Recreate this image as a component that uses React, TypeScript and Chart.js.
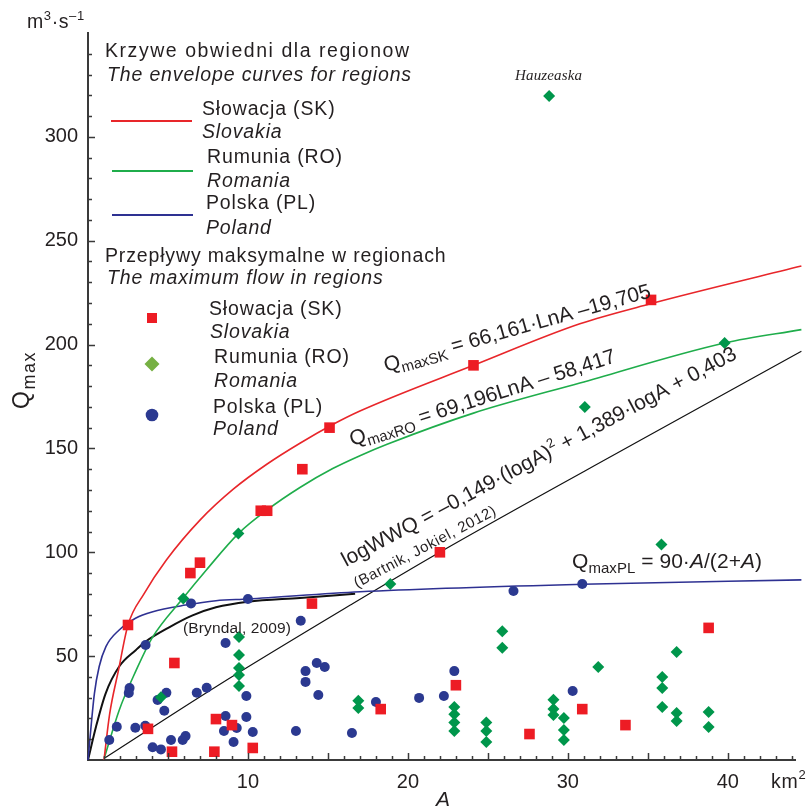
import React, { useEffect, useRef } from "react";
import { Chart, registerables } from "chart.js";

Chart.register(...registerables);

// ---------- axes ----------
const X_TICKS = [10, 20, 30, 40];
const Y_TICKS = [50, 100, 150, 200, 250, 300];
const X_MIN = 0;
const X_MAX = 44.2;
const Y_MIN = 0;
const Y_MAX = 350;

// ---------- observed maximum flows ----------
// Słowacja (SK)
const skA = [2.5, 6.4, 7.0, 13.4, 10.8, 11.2, 15.1, 24.1, 35.2, 22.0, 14.0, 5.4, 3.75, 5.25, 7.9, 10.3, 8.0, 9.0, 23.0, 18.3, 27.6, 30.9, 33.6, 38.8];
const skQ = [65, 90, 95, 140, 120, 120, 160, 190, 221.5, 100, 75.3, 46.7, 15, 4, 4, 5.8, 19.7, 16.8, 36, 24.5, 12.5, 24.5, 16.8, 63.6];

// Rumunia (RO)
const roA = [28.83, 39.8, 31.06, 35.85, 18.9, 9.4, 5.96, 9.44, 9.44, 9.44, 9.44, 9.44, 4.56, 16.9, 16.9, 22.9, 22.9, 22.9, 22.9, 24.9, 24.9, 24.9, 25.9, 25.9, 29.1, 29.1, 29.1, 29.75, 29.75, 29.75, 31.9, 35.9, 35.9, 35.9, 36.8, 36.8, 36.8, 38.8, 38.8];
const roQ = [319.7, 200.8, 170, 103.7, 84.7, 109, 77.8, 59.2, 50.6, 44.3, 40.9, 35.6, 30.2, 28.5, 25, 25.5, 22, 18, 14, 18, 14, 8.7, 62, 54, 29, 24.5, 21.7, 20.2, 14.4, 9.6, 44.8, 40, 34.7, 25.5, 52, 22.6, 18.8, 23.1, 15.9];

// Polska (PL)
const plA = [6.44, 10.0, 13.3, 3.6, 8.6, 2.6, 2.55, 4.9, 4.35, 6.8, 7.42, 9.9, 4.77, 13.6, 13.6, 8.6, 9.9, 1.8, 2.96, 3.58, 8.5, 9.3, 10.3, 13.0, 1.33, 5.19, 5.92, 6.1, 9.1, 4.04, 4.56, 14.3, 14.8, 14.4, 16.5, 18.0, 20.7, 22.25, 22.9, 26.6, 30.3, 30.9];
const plQ = [75.4, 77.5, 67, 55.4, 56.3, 34.7, 32.3, 32.4, 28.9, 32.4, 34.8, 30.8, 23.7, 42.8, 37.6, 21.2, 20.7, 16, 15.5, 16.5, 14, 15.4, 13.5, 14, 9.6, 9.6, 9.6, 11.5, 8.7, 6.1, 5.1, 46.7, 44.8, 31.3, 13, 27.9, 29.9, 30.8, 42.8, 81.4, 33.2, 84.7];

// ---------- envelope curves ----------
const skCurveA = [1.0, 1.35, 1.9, 2.5, 3.5, 4.9, 7.0, 9.1, 11.2, 13.25, 15.3, 17.0, 24.1, 30.75, 35.1, 44.6];
const skCurveQ = [0, 22, 43, 65, 80, 96.3, 115.5, 130.5, 142.5, 152.5, 161.5, 168, 190, 210, 219.5, 237.8];

const roCurveA = [1.02, 1.95, 3.0, 4.0, 5.95, 7.4, 9.4, 11.2, 13.25, 15.3, 17.0, 18.7, 24.1, 30.75, 39.8, 44.6];
const roCurveQ = [1, 24, 43, 58.7, 78, 91.5, 109, 120.4, 131.2, 140.3, 146.5, 152, 167, 181.5, 200.8, 207.2];

const plCurveA = [0, 0.4, 0.7, 1.12, 1.95, 3.0, 4.0, 6.1, 8.0, 10.0, 17.0, 30.9, 44.6];
const plCurveQ = [0, 32, 45, 54.6, 62.6, 68.4, 71.3, 74.6, 76.7, 77.5, 81, 84.6, 86.7];

// Bryndal (2009)
const bryndalA = [0, 0.5, 1.1, 1.95, 3.0, 3.6, 5.1, 6.5, 8.0, 10.0, 13.25, 16.7];
const bryndalQ = [0, 16, 32, 45, 53, 57, 64, 69.5, 73.5, 76.2, 78, 80];

// Bartnik, Jokiel (2012)
const bartnikA = [1.02, 8.0, 16.4, 21.8, 34.5, 44.6];
const bartnikQ = [0.8, 35.3, 74.6, 99.2, 153.8, 196.8];

// ---------- styling ----------
const FONT = '"Liberation Sans", Arial, Helvetica, sans-serif';
const SERIF = '"Liberation Serif", "Times New Roman", serif';
const TEXT = "#231f20";
const AXIS = "#3a3a3a";
const RED_M = "#ed1c24";
const GREEN_M = "#00964b";
const BLUE_M = "#2b3990";
const RED_L = "#e8262a";
const GREEN_L = "#1fad4b";
const BLUE_L = "#2e3192";
const LEG_DIAMOND = "#76b043";

const zip = (a: number[], b: number[]) => a.map((x, i) => ({ x, y: b[i] }));

type Run = { t: string; size: number; dy?: number; italic?: boolean; family?: string };

function setFont(ctx: CanvasRenderingContext2D, r: Run) {
  ctx.font = `${r.italic ? "italic " : ""}${r.size}px ${r.family || FONT}`;
}

function measureRuns(ctx: CanvasRenderingContext2D, runs: Run[]) {
  let w = 0;
  let n = 0;
  for (const r of runs) {
    setFont(ctx, r);
    for (const ch of Array.from(r.t)) {
      w += ctx.measureText(ch).width;
      n++;
    }
  }
  return { w, n };
}

function drawRuns(
  ctx: CanvasRenderingContext2D,
  runs: Run[],
  x: number,
  y: number,
  opt: { angle?: number; spacing?: number; fit?: number; color?: string; align?: "left" | "center" } = {}
) {
  ctx.save();
  ctx.translate(x, y);
  ctx.rotate(opt.angle || 0);
  ctx.fillStyle = opt.color || TEXT;
  ctx.textAlign = "left";
  ctx.textBaseline = "alphabetic";
  const m = measureRuns(ctx, runs);
  let sp = opt.spacing || 0;
  if (opt.fit) sp = (opt.fit - m.w) / Math.max(1, m.n - 1);
  let cx = 0;
  if (opt.align === "center") cx = -(m.w + sp * (m.n - 1)) / 2;
  for (const r of runs) {
    setFont(ctx, r);
    for (const ch of Array.from(r.t)) {
      ctx.fillText(ch, cx, r.dy || 0);
      cx += ctx.measureText(ch).width + sp;
    }
  }
  ctx.restore();
}

function drawAlong(ctx: CanvasRenderingContext2D, runs: Run[], x1: number, y1: number, x2: number, y2: number) {
  const angle = Math.atan2(y2 - y1, x2 - x1);
  const len = Math.hypot(x2 - x1, y2 - y1);
  drawRuns(ctx, runs, x1, y1, { angle, fit: len });
}

// [x, baseline, text, italic, fitted width (0 = natural)]
const LEGEND_TEXT: [number, number, string, boolean, number][] = [
  [105, 57, "Krzywe obwiedni dla regionow", false, 304],
  [107, 81, "The envelope curves for regions", true, 0],
  [202, 115, "Słowacja (SK)", false, 0],
  [202, 138, "Slovakia", true, 0],
  [207, 163, "Rumunia (RO)", false, 0],
  [207, 187, "Romania", true, 0],
  [206, 209, "Polska (PL)", false, 0],
  [206, 234, "Poland", true, 0],
  [105, 262, "Przepływy maksymalne w regionach", false, 0],
  [107, 284, "The maximum flow in regions", true, 0],
  [209, 315, "Słowacja (SK)", false, 0],
  [210, 338, "Slovakia", true, 0],
  [214, 363, "Rumunia (RO)", false, 0],
  [214, 387, "Romania", true, 0],
  [213, 413, "Polska (PL)", false, 0],
  [213, 435, "Poland", true, 0],
];

const overlayPlugin = {
  id: "overlay",
  afterDraw(chart: any) {
    const ctx: CanvasRenderingContext2D = chart.ctx;
    const xs = chart.scales.x;
    const ys = chart.scales.y;
    const x0 = xs.getPixelForValue(X_MIN);
    const y0 = ys.getPixelForValue(Y_MIN);

    // inside tick marks
    ctx.save();
    ctx.strokeStyle = AXIS;
    ctx.lineWidth = 1.5;
    ctx.beginPath();
    for (let v = 1; v <= Math.floor(X_MAX); v++) {
      const px = Math.round(xs.getPixelForValue(v)) + 0.5;
      const len = v % 5 === 0 ? 7 : 4;
      ctx.moveTo(px, y0);
      ctx.lineTo(px, y0 - len);
    }
    for (let v = 10; v < Y_MAX; v += 10) {
      const py = Math.round(ys.getPixelForValue(v)) + 0.5;
      const len = v % 50 === 0 ? 7 : 4;
      ctx.moveTo(x0, py);
      ctx.lineTo(x0 + len, py);
    }
    ctx.stroke();
    ctx.restore();

    // legend block
    const lineY = [
      [RED_L, 111, 192, 121],
      [GREEN_L, 112, 193, 171],
      [BLUE_L, 112, 193, 215],
    ] as [string, number, number, number][];
    ctx.save();
    ctx.lineWidth = 2;
    for (const [c, a, b, y] of lineY) {
      ctx.strokeStyle = c;
      ctx.beginPath();
      ctx.moveTo(a, y);
      ctx.lineTo(b, y);
      ctx.stroke();
    }
    ctx.fillStyle = RED_M;
    ctx.fillRect(152 - 5, 318 - 5, 10, 10);
    ctx.fillStyle = LEG_DIAMOND;
    ctx.beginPath();
    ctx.moveTo(152, 364 - 7.5);
    ctx.lineTo(152 + 7.5, 364);
    ctx.lineTo(152, 364 + 7.5);
    ctx.lineTo(152 - 7.5, 364);
    ctx.closePath();
    ctx.fill();
    ctx.fillStyle = BLUE_M;
    ctx.beginPath();
    ctx.arc(152, 415, 6.3, 0, Math.PI * 2);
    ctx.fill();
    ctx.restore();

    for (const [x, y, t, it, fit] of LEGEND_TEXT) {
      if (fit) drawRuns(ctx, [{ t, size: 19.5, italic: it }], x, y, { fit });
      else drawRuns(ctx, [{ t, size: 19.5, italic: it }], x, y, { spacing: 0.85 });
    }

    // axis titles
    drawRuns(
      ctx,
      [
        { t: "m", size: 19.5 },
        { t: "3", size: 13, dy: -8 },
        { t: "·s", size: 19.5 },
        { t: "–1", size: 13, dy: -8 },
      ],
      27,
      28,
      { spacing: 0.6 }
    );
    drawRuns(
      ctx,
      [
        { t: "Q", size: 23 },
        { t: "max", size: 18, dy: 6 },
      ],
      29,
      409,
      { angle: -Math.PI / 2, spacing: 1.5 }
    );
    drawRuns(ctx, [{ t: "A", size: 21, italic: true }], 443, 806, { align: "center" });
    drawRuns(
      ctx,
      [
        { t: "km", size: 19.5 },
        { t: "2", size: 13, dy: -9 },
      ],
      771,
      788,
      { spacing: 0.8 }
    );

    // curve equations
    drawAlong(
      ctx,
      [
        { t: "Q", size: 21 },
        { t: "maxSK", size: 15, dy: 5 },
        { t: " = 66,161·LnA –19,705", size: 21 },
      ],
      386, 372, 652, 297
    );
    drawAlong(
      ctx,
      [
        { t: "Q", size: 21 },
        { t: "maxRO", size: 15, dy: 5 },
        { t: " = 69,196LnA – 58,417", size: 21 },
      ],
      352, 446, 617, 362
    );
    drawAlong(
      ctx,
      [
        { t: "logWWQ = –0,149·(logA)", size: 21 },
        { t: "2", size: 13, dy: -9 },
        { t: " + 1,389·logA + 0,403", size: 21 },
      ],
      346, 567, 738, 358
    );
    drawAlong(ctx, [{ t: "(Bartnik, Jokiel, 2012)", size: 15 }], 357, 588, 497, 514);
    drawRuns(
      ctx,
      [
        { t: "Q", size: 21 },
        { t: "maxPL", size: 15, dy: 5 },
        { t: " = 90·", size: 21 },
        { t: "A", size: 21, italic: true },
        { t: "/(2+", size: 21 },
        { t: "A", size: 21, italic: true },
        { t: ")", size: 21 },
      ],
      572,
      568,
      { fit: 190 }
    );
    drawRuns(ctx, [{ t: "(Bryndal, 2009)", size: 15.5 }], 183, 633, { fit: 108 });
    drawRuns(ctx, [{ t: "Hauzeaska", size: 15, italic: true, family: SERIF }], 515, 80, { fit: 67 });
  },
};

export default function App() {
  const ref = useRef<HTMLCanvasElement | null>(null);

  useEffect(() => {
    if (!ref.current) return;
    const curve = (label: string, a: number[], q: number[], color: string, width: number, order: number) => ({
      type: "line" as const,
      label,
      data: zip(a, q),
      borderColor: color,
      borderWidth: width,
      pointRadius: 0,
      fill: false,
      cubicInterpolationMode: "monotone" as const,
      clip: false as any,
      order,
    });

    const chart = new Chart(ref.current, {
      type: "scatter",
      data: {
        datasets: [
          {
            type: "scatter",
            label: "Słowacja (SK)",
            data: zip(skA, skQ),
            pointStyle: "rect",
            pointRadius: 7.5,
            backgroundColor: RED_M,
            borderWidth: 0,
            order: 1,
          },
          {
            type: "scatter",
            label: "Rumunia (RO)",
            data: zip(roA, roQ),
            pointStyle: "rectRot",
            pointRadius: 6,
            backgroundColor: GREEN_M,
            borderWidth: 0,
            order: 2,
          },
          {
            type: "scatter",
            label: "Polska (PL)",
            data: zip(plA, plQ),
            pointStyle: "circle",
            pointRadius: 5,
            backgroundColor: BLUE_M,
            borderWidth: 0,
            order: 3,
          },
          curve("SK envelope", skCurveA, skCurveQ, RED_L, 1.6, 10),
          curve("RO envelope", roCurveA, roCurveQ, GREEN_L, 1.6, 11),
          curve("PL envelope", plCurveA, plCurveQ, BLUE_L, 1.6, 12),
          curve("Bryndal 2009", bryndalA, bryndalQ, "#111111", 2, 13),
          curve("Bartnik, Jokiel 2012", bartnikA, bartnikQ, "#111111", 1.2, 14),
        ] as any,
      },
      options: {
        responsive: false,
        animation: false,
        events: [],
        layout: { padding: { top: 33, right: 14, left: 0, bottom: 0 } },
        plugins: { legend: { display: false }, tooltip: { enabled: false } },
        scales: {
          x: {
            type: "linear",
            position: "bottom",
            min: X_MIN,
            max: X_MAX,
            grid: { display: false, drawTicks: false },
            border: { display: true, color: AXIS, width: 2 },
            afterBuildTicks: (s: any) => {
              s.ticks = X_TICKS.map((value) => ({ value }));
            },
            afterFit: (s: any) => {
              s.height = 48;
            },
            ticks: {
              font: { family: FONT, size: 20 },
              color: TEXT,
              padding: 10,
              maxRotation: 0,
              autoSkip: false,
            },
          },
          y: {
            type: "linear",
            position: "left",
            min: Y_MIN,
            max: Y_MAX,
            grid: { display: false, drawTicks: false },
            border: { display: true, color: AXIS, width: 2 },
            afterBuildTicks: (s: any) => {
              s.ticks = Y_TICKS.map((value) => ({ value }));
            },
            afterFit: (s: any) => {
              s.width = 88;
            },
            ticks: {
              font: { family: FONT, size: 20 },
              color: TEXT,
              padding: 10,
              autoSkip: false,
            },
          },
        },
      } as any,
      plugins: [overlayPlugin],
    });
    return () => chart.destroy();
  }, []);

  return (
    <div style={{ position: "absolute", left: 0, top: 0, width: 809, height: 808 }}>
      <canvas ref={ref} width={809} height={808} style={{ display: "block" }} />
    </div>
  );
}
